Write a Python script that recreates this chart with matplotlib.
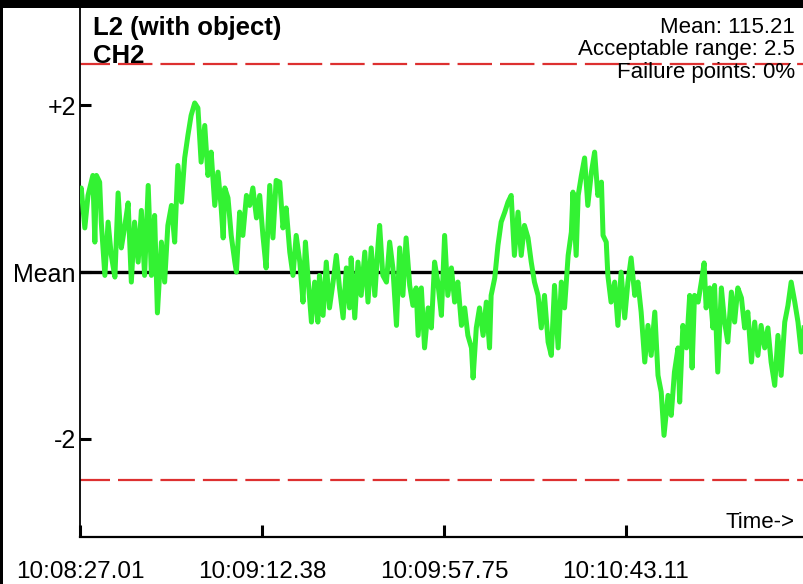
import numpy as np
import matplotlib
matplotlib.use("Agg")
import matplotlib.pyplot as plt
from matplotlib.patches import Rectangle

plt.rcParams['font.family'] = ['Liberation Sans', 'DejaVu Sans']

# seconds since 10:08:27.01 and deviation from the mean
t_sec = [0.0, 0.3, 1.2, 2.0, 3.2, 3.7, 4.1, 4.9, 5.3, 6.2, 7.0, 7.8, 8.7, 9.5, 10.3, 11.1, 12.0, 12.8, 13.6, 14.5,
         15.3, 16.1, 17.0, 17.8, 18.6, 19.3, 20.3, 21.1, 21.9, 22.8, 23.6, 24.4, 25.3, 26.1, 26.9, 27.7, 28.6, 29.4,
         30.2, 31.1, 31.9, 32.7, 33.6, 34.4, 35.2, 35.7, 36.1, 36.9, 37.7, 38.6, 39.0, 39.8, 40.6, 41.5, 42.3, 43.1,
         44.0, 44.8, 45.6, 46.4, 47.3, 48.1, 48.9, 49.8, 50.6, 51.4, 52.3, 53.1, 53.9, 54.8, 55.6, 56.2, 56.8, 57.7,
         58.5, 59.3, 59.7, 60.6, 61.4, 62.2, 63.1, 63.9, 64.7, 65.6, 66.4, 67.2, 67.6, 68.5, 69.3, 70.1, 71.0, 71.8,
         72.6, 73.5, 74.3, 74.7, 75.5, 76.4, 77.2, 78.0, 78.9, 79.7, 80.5, 81.3, 82.2, 83.0, 83.8, 84.3, 85.1, 85.9,
         86.8, 87.6, 88.4, 89.2, 90.1, 90.9, 91.7, 92.6, 93.4, 94.2, 95.1, 95.9, 96.7, 97.6, 98.0, 98.8, 99.6, 100.5,
         101.3, 102.1, 102.5, 103.4, 104.2, 105.0, 105.9, 106.7, 107.5, 108.3, 109.2, 110.0, 110.8, 111.7, 112.5,
         113.3, 114.2, 115.0, 115.8, 116.7, 117.5, 118.3, 119.2, 120.0, 120.8, 121.7, 122.5, 122.9, 123.7, 124.2,
         125.0, 125.8, 126.6, 127.5, 128.3, 129.1, 130.0, 130.4, 131.2, 131.6, 132.4, 133.3, 134.1, 134.9, 135.8,
         136.6, 137.4, 138.3, 139.1, 139.9, 140.8, 141.6, 142.4, 143.3, 144.1, 144.9, 145.6, 146.6, 147.4, 148.2,
         149.1, 149.5, 150.3, 151.2, 152.0, 152.6, 153.2, 154.1, 154.9, 155.6, 156.1, 157.0, 157.8, 158.2, 159.0,
         159.9, 160.7, 161.5, 162.4, 163.2, 164.0, 164.9, 165.7, 166.5, 167.4, 168.2, 169.0, 169.8, 170.7, 171.5,
         172.3, 173.2, 174.0, 174.8, 175.7, 176.5, 177.3, 178.2, 179.0, 179.8, 180.5]
dev = [0.86, 1.01, 0.53, 0.92, 1.16, 0.36, 1.16, 1.08, 0.60, -0.04, 0.60, 0.20, -0.06, 0.95, 0.29, 0.53, 0.83, -0.12,
       0.60, 0.12, 0.74, -0.04, 1.04, -0.04, 0.68, -0.49, 0.36, -0.12, 0.56, 0.80, 0.36, 1.28, 0.84, 1.37, 1.64, 1.88,
       2.03, 1.97, 1.32, 1.76, 1.16, 1.44, 0.80, 1.20, 0.77, 0.41, 1.01, 0.89, 0.44, 0.12, 0.00, 0.72, 0.44, 0.92,
       0.80, 1.01, 0.65, 0.92, 0.44, 0.05, 1.04, 0.41, 1.10, 1.08, 0.53, 0.77, 0.24, -0.04, 0.44, 0.12, -0.36, 0.36,
       -0.04, -0.60, -0.12, -0.60, -0.04, -0.52, 0.12, -0.43, -0.12, 0.20, -0.19, -0.55, 0.05, -0.43, 0.17, -0.55,
       0.12, -0.28, 0.24, -0.36, 0.29, -0.28, 0.32, 0.56, -0.04, -0.12, 0.36, 0.05, -0.64, 0.29, -0.28, 0.41, -0.16,
       -0.40, -0.19, -0.76, -0.19, -0.91, -0.43, -0.67, 0.12, -0.12, -0.52, 0.44, -0.28, 0.05, -0.36, -0.12, -0.64,
       -0.43, -0.76, -0.91, -1.27, -0.67, -0.43, -0.76, -0.36, -0.91, -0.28, -0.07, 0.32, 0.60, 0.72, 0.84, 0.92,
       0.20, 0.72, 0.20, 0.56, 0.41, 0.12, -0.12, -0.28, -0.67, -0.28, -0.84, -1.00, -0.16, -0.91, -0.12, -0.43,
       0.20, 0.48, 0.96, 0.20, 0.92, 1.16, 1.37, 0.80, 1.20, 1.44, 0.92, 1.08, 0.44, 0.36, -0.04, -0.36, -0.12,
       -0.64, 0.00, -0.55, -0.12, 0.17, -0.28, -0.12, -0.48, -1.08, -0.64, -1.00, -0.48, -1.24, -1.44, -1.96, -1.48,
       -1.72, -1.20, -0.91, -1.56, -0.64, -0.91, -0.28, -1.15, -0.28, -0.36, -0.12, 0.11, -0.43, -0.19, -0.67, -0.16,
       -1.20, -0.19, -0.60, -0.84, -0.24, -0.60, -0.19, -0.31, -0.67, -0.48, -1.08, -0.60, -1.00, -0.64, -0.91,
       -0.67, -1.08, -1.36, -0.76, -1.24, -0.60, -0.40, -0.12, -0.36, -0.60, -0.96, -0.67]

tick_sec = [0.0, 45.37, 90.74, 136.10]
tick_labels = ['10:08:27.01', '10:09:12.38', '10:09:57.75', '10:10:43.11']
y_ticks = [2, 0, -2]
y_labels = ['+2', 'Mean', '-2']
accept = 2.5
mean_val = 115.21
fail_pct = 0

fig = plt.figure(figsize=(8.04, 5.84), dpi=100)
ax = fig.add_axes([80 / 804, 1 - 537 / 584, 1 - 80 / 804, (537 - 8) / 584])

ax.axhline(0, color='black', lw=2.4, zorder=2)
for lim in (accept, -accept):
    ax.axhline(lim, color='#dd3030', lw=1.6, ls=(2, (15.5, 3.6)), zorder=1)
ax.plot(t_sec, dev, color='#33f233', lw=3.6, zorder=3)

ax.set_xlim(0, 180.5)
ax.set_ylim(-3.18, 3.17)
ax.set_xticks(tick_sec)
ax.set_xticklabels(tick_labels, fontsize=17.5)
ax.set_yticks(y_ticks)
ax.set_yticklabels(y_labels, fontsize=18)
ax.tick_params(axis='x', direction='in', length=9, width=2.2, pad=17)
ax.tick_params(axis='y', direction='in', length=8, width=2.2, pad=3)

ax.spines['top'].set_visible(False)
ax.spines['right'].set_visible(False)
ax.spines['left'].set_linewidth(1.3)
ax.spines['bottom'].set_linewidth(1.6)

# title and info texts
ax.text(13 / 724, 1 - 27 / 529, 'L2 (with object)', transform=ax.transAxes,
        fontsize=18.5, fontweight='bold', va='baseline', ha='left')
ax.text(13 / 724, 1 - 55 / 529, 'CH2', transform=ax.transAxes,
        fontsize=18.5, fontweight='bold', va='baseline', ha='left')
info = ['Mean: %.2f' % mean_val, 'Acceptable range: %s' % accept, 'Failure points: %d%%' % fail_pct]
for i, s in enumerate(info):
    ax.text(715 / 724, 1 - (25 + 22.5 * i) / 529, s, transform=ax.transAxes,
            fontsize=16, va='baseline', ha='right', zorder=5)
ax.text(715 / 724, 9 / 529, 'Time->', transform=ax.transAxes,
        fontsize=16, va='baseline', ha='right')

# black frame bits at the top and left edge
fig.add_artist(Rectangle((0, 1 - 8 / 584), 1, 8 / 584, transform=fig.transFigure,
                         facecolor='black', edgecolor='none'))
fig.add_artist(Rectangle((0, 0), 3 / 804, 1, transform=fig.transFigure,
                         facecolor='black', edgecolor='none'))

fig.savefig('out.png', dpi=100)
